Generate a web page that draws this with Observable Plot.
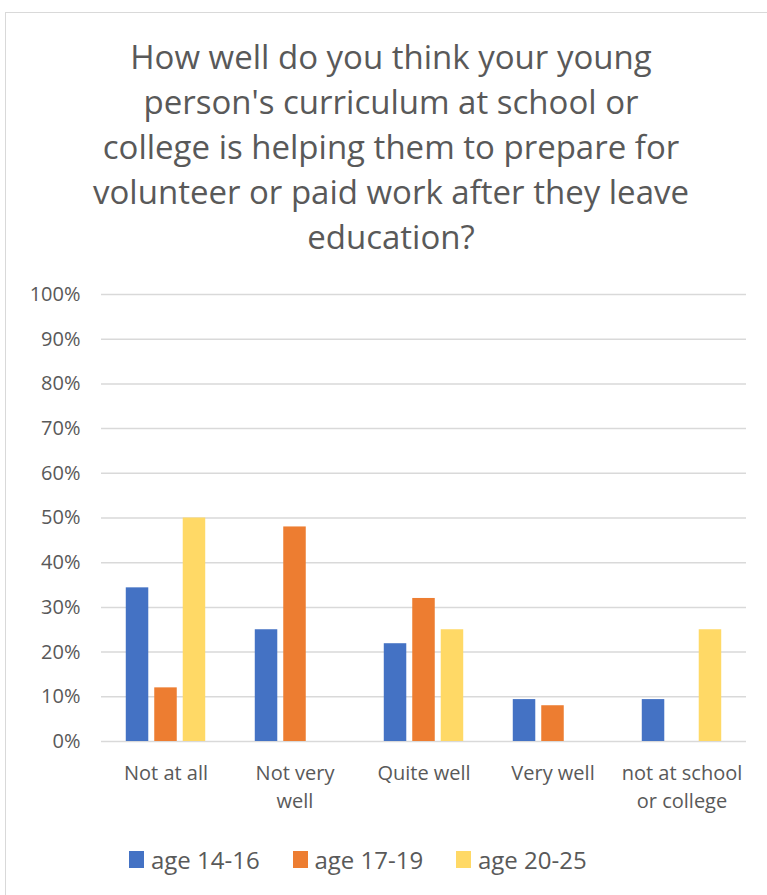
<!DOCTYPE html>
<html>
<head>
<meta charset="utf-8">
<script src="https://cdn.jsdelivr.net/npm/d3@7"></script>
<script src="https://cdn.jsdelivr.net/npm/@observablehq/plot@0.6"></script>
<style>
  html, body { margin: 0; padding: 0; width: 767px; height: 895px; overflow: hidden; background: #fff; font-family: "Open Sans", sans-serif; }
  #frame { position: absolute; left: 5px; top: 12px; width: 820px; height: 940px; border: 1.5px solid #d9d9d9; box-sizing: border-box; }
  #title { position: absolute; left: 0; top: 34px; width: 782px; text-align: center; color: #595959; font-size: 33px; line-height: 45px; }
  #chart { position: absolute; left: 0; top: 270px; }
  #legend { position: absolute; left: 129px; top: 843px; display: flex; color: #595959; font-size: 24px; }
  .item { display: flex; align-items: center; gap: 7px; width: 163.5px; }
  .sw { width: 15px; height: 17px; display: inline-block; }
</style>
</head>
<body>
<div id="frame"></div>
<div id="title">How well do you think your young<br>person's curriculum at school or<br>college is helping them to prepare for<br>volunteer or paid work after they leave<br>education?</div>
<div id="chart"></div>
<div id="legend"></div>
<script>
const categories = ["Not at all", "Not very\nwell", "Quite well", "Very well", "not at school\nor college"];
const seriesNames = ["age 14-16", "age 17-19", "age 20-25"];
const seriesColors = ["#4472C4", "#ED7D31", "#FFD966"];
const age14_16 = [0.34375, 0.25, 0.21875, 0.09375, 0.09375];
const age17_19 = [0.12, 0.48, 0.32, 0.08, 0];
const age20_25 = [0.50, 0, 0.25, 0, 0.25];
const yTicks = [0, 0.1, 0.2, 0.3, 0.4, 0.5, 0.6, 0.7, 0.8, 0.9, 1.0];

const seriesValues = [age14_16, age17_19, age20_25];
const data = [];
categories.forEach((c, i) => {
  seriesNames.forEach((s, j) => {
    data.push({category: c, series: s, value: seriesValues[j][i]});
  });
});

const chart = Plot.plot({
  width: 767,
  height: 550,
  marginLeft: 101,
  marginRight: 21,
  marginTop: 24,
  marginBottom: 79,
  style: {fontFamily: "'Open Sans', sans-serif", fontSize: "20px", color: "#595959", background: "transparent"},
  fx: {domain: categories, padding: 0, label: null},
  x: {domain: seriesNames, paddingInner: 0.21, paddingOuter: 0.87, axis: null, round: false},
  y: {domain: [0, 1], label: null},
  color: {domain: seriesNames, range: seriesColors},
  marks: [
    Plot.ruleY(yTicks, {stroke: "#d9d9d9", strokeWidth: 1.5}),
    Plot.barY(data, {fx: "category", x: "series", y: "value", fill: "series"}),
    Plot.axisY(yTicks, {tickFormat: d3.format(".0%"), tickSize: 0, tickPadding: 21, label: null, fill: "#595959", fontSize: 20}),
    Plot.axisFx({anchor: "bottom", tickSize: 0, tickPadding: 19, label: null, lineHeight: 1.4, fill: "#595959", fontSize: 20})
  ]
});
document.getElementById("chart").appendChild(chart);

const legend = document.getElementById("legend");
seriesNames.forEach((s, j) => {
  const item = document.createElement("div");
  item.className = "item";
  const sw = document.createElement("span");
  sw.className = "sw";
  sw.style.background = seriesColors[j];
  const t = document.createElement("span");
  t.textContent = s;
  item.appendChild(sw);
  item.appendChild(t);
  legend.appendChild(item);
});
</script>
</body>
</html>
